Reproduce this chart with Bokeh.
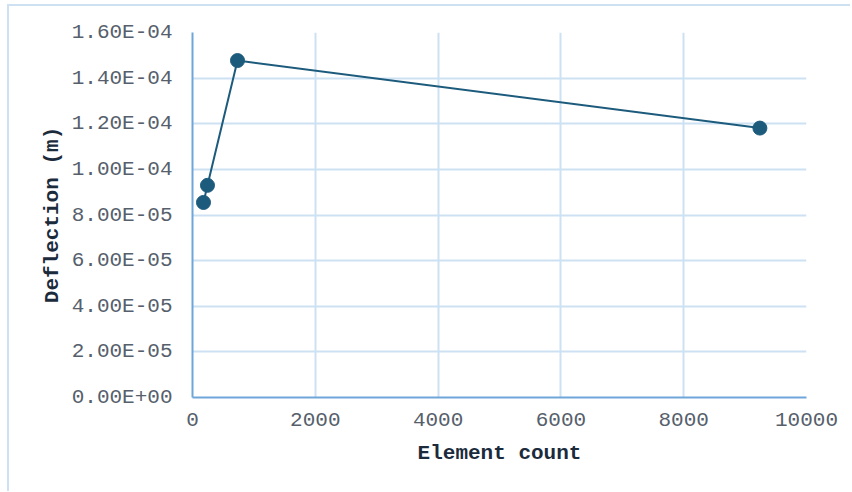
from bokeh.plotting import figure
from bokeh.models import FixedTicker, CustomJSTickFormatter, Range1d
from bokeh.embed import file_html
from bokeh.resources import INLINE

# Mesh convergence: tip deflection versus number of elements
element_count = [179, 244, 733, 9241]
deflection = [8.55e-05, 9.30e-05, 1.477e-04, 1.181e-04]

x_ticks = [0, 2000, 4000, 6000, 8000, 10000]
y_ticks = [0.0, 2e-05, 4e-05, 6e-05, 8e-05, 1e-04, 1.2e-04, 1.4e-04, 1.6e-04]
y_labels = ["0.00E+00", "2.00E-05", "4.00E-05", "6.00E-05", "8.00E-05",
            "1.00E-04", "1.20E-04", "1.40E-04", "1.60E-04"]

FONT = "Liberation Mono"
SERIES = "#1d5b7d"
AXIS = "#6fa6d9"
GRID = "#cde1f3"

# canvas sits inside a thin light-blue frame on its top and left sides
p = figure(width=843, height=487, output_backend="svg", toolbar_location=None,
           x_range=Range1d(0, 10000), y_range=Range1d(0, 1.6e-04),
           min_border_left=183, min_border_right=46,
           min_border_top=26, min_border_bottom=96)
p.styles = {"margin-left": "7px", "margin-top": "4px",
            "border-left": f"2px solid {GRID}", "border-top": f"2px solid {GRID}"}
p.outline_line_color = None
p.background_fill_color = "white"
p.border_fill_color = "white"

p.line(element_count, deflection, line_color=SERIES, line_width=2)
p.scatter(element_count, deflection, size=14, fill_color=SERIES, line_color=SERIES)

p.xaxis.ticker = FixedTicker(ticks=x_ticks)
p.yaxis.ticker = FixedTicker(ticks=y_ticks)
p.yaxis.formatter = CustomJSTickFormatter(
    args=dict(labels=y_labels, step=2e-05),
    code="const i = Math.round(tick / step); return labels[i];")

for ax in (p.xaxis[0], p.yaxis[0]):
    ax.axis_line_color = AXIS
    ax.axis_line_width = 2
    ax.major_tick_line_color = None
    ax.minor_tick_line_color = None
    ax.major_tick_out = 0
    ax.major_tick_in = 0
    ax.major_label_text_font = FONT
    ax.major_label_text_font_size = "21px"
    ax.major_label_text_color = "#56606c"
    ax.axis_label_text_font = FONT
    ax.axis_label_text_font_size = "21px"
    ax.axis_label_text_font_style = "bold"
    ax.axis_label_text_color = "#1b2b3c"

p.xaxis.axis_label = "Element count"
p.yaxis.axis_label = "Deflection (m)"
p.xaxis.major_label_standoff = 15
p.yaxis.major_label_standoff = 20
p.xaxis.axis_label_standoff = 13
p.yaxis.axis_label_standoff = 5

p.xgrid.grid_line_color = GRID
p.ygrid.grid_line_color = GRID
p.xgrid.grid_line_width = 2
p.ygrid.grid_line_width = 2

open("out.html", "w").write(file_html(p, INLINE))
